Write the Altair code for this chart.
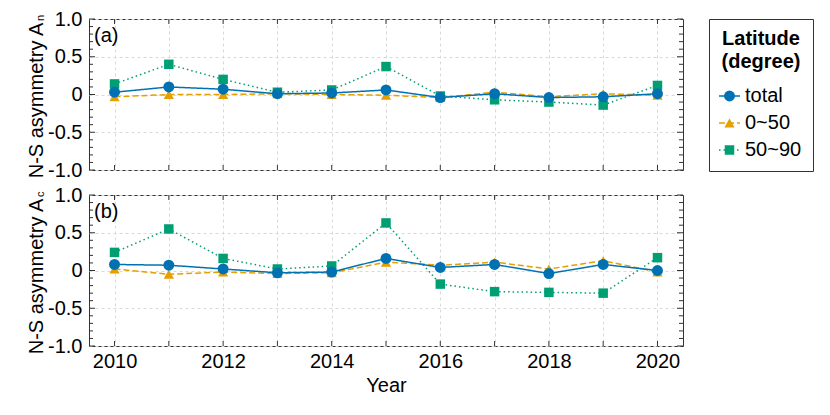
import altair as alt
import pandas as pd

# ---------------- data ----------------
years = [2010, 2011, 2012, 2013, 2014, 2015, 2016, 2017, 2018, 2019, 2020]
series_names = ["total", "0~50", "50~90"]

# panel (a): N-S asymmetry A_n
a_total = [0.03, 0.10, 0.07, 0.01, 0.02, 0.06, -0.04, 0.01, -0.04, -0.03, 0.01]
a_low = [-0.03, 0.00, 0.00, 0.01, 0.00, -0.01, -0.04, 0.03, -0.03, 0.01, -0.01]
a_high = [0.14, 0.40, 0.20, 0.03, 0.06, 0.37, -0.02, -0.07, -0.10, -0.14, 0.12]

# panel (b): N-S asymmetry A_c
b_total = [0.08, 0.07, 0.02, -0.03, -0.02, 0.16, 0.04, 0.08, -0.04, 0.08, 0.00]
b_low = [0.02, -0.05, -0.02, -0.04, -0.03, 0.11, 0.07, 0.11, 0.02, 0.13, -0.02]
b_high = [0.24, 0.55, 0.16, 0.02, 0.06, 0.63, -0.18, -0.28, -0.29, -0.30, 0.17]

y_major = [-1.0, -0.5, 0.0, 0.5, 1.0]
y_minor = [-0.9, -0.8, -0.7, -0.6, -0.4, -0.3, -0.2, -0.1,
           0.1, 0.2, 0.3, 0.4, 0.6, 0.7, 0.8, 0.9]
panel_tags = ["(a)", "(b)"]
y_title = "N-S asymmetry A"
y_subs = ["n", "c"]
x_title = "Year"
legend_title = ["Latitude", "(degree)"]

# ---------------- style ----------------
FONT = "Liberation Sans"
W, H = 594, 151
X_DOMAIN = [2009.53, 2020.47]
FRAME = "#333333"
GRID = "#d9d9d9"

series_colors = ["#0072B2", "#E69F00", "#009E73"]
series_shapes = ["circle", "triangle-up", "square"]
series_dashes = [[1, 0], [6, 3], [1.5, 3]]
series_sizes = [120, 90, 85]

color_scale = alt.Scale(domain=series_names, range=series_colors)
shape_scale = alt.Scale(domain=series_names, range=series_shapes)
dash_scale = alt.Scale(domain=series_names, range=series_dashes)
size_scale = alt.Scale(domain=series_names, range=series_sizes)

y_label_expr = ("datum.value == 0 ? '0' : (datum.value < 0 ? '-' : '') + "
                "format(abs(datum.value), '.1f')")
x_label_expr = "datum.value % 2 == 0 ? format(datum.value, 'd') : ''"


def panel(total, low, high, tag, sub, bottom):
    n = len(years)
    df = pd.DataFrame({
        "year": years * 3,
        "value": high + low + total,
        "series": [series_names[2]] * n + [series_names[1]] * n + [series_names[0]] * n,
    })

    x_kwargs = dict(values=years, tickCount=20, grid=True, gridColor=GRID,
                    gridDash=[3, 3], gridWidth=1, ticks=False, domain=False,
                    labelOverlap=False)
    if bottom:
        x_kwargs.update(labels=True, labelExpr=x_label_expr, labelFontSize=20,
                        labelPadding=5, labelColor="black", title=x_title,
                        titleFontSize=20, titleFontWeight="normal",
                        titlePadding=4, titleColor="black")
    else:
        x_kwargs.update(labels=False, title="")
    x_axis = alt.Axis(**x_kwargs)
    y_axis = alt.Axis(values=y_major, tickCount=10, labelExpr=y_label_expr,
                      grid=True, gridColor=GRID, gridDash=[3, 3], gridWidth=1,
                      ticks=False, domain=False, labelFontSize=20,
                      labelOverlap=False, labelPadding=7,
                      labelColor="black", title=y_title,
                      titleFontSize=20, titleFontWeight="normal",
                      titleColor="black", titleAngle=270, titleX=-47,
                      titleY=81, titleAlign="center",
                      titleBaseline="alphabetic")
    x_scale = alt.Scale(domain=X_DOMAIN, nice=False, zero=False)
    y_scale = alt.Scale(domain=[-1, 1], nice=False, zero=False)

    def X():
        return alt.X("year:Q", scale=x_scale, axis=x_axis)

    def Y():
        return alt.Y("value:Q", scale=y_scale, axis=y_axis)

    lines = alt.Chart(df).mark_line(strokeWidth=1.5).encode(
        x=X(), y=Y(),
        color=alt.Color("series:N", scale=color_scale, legend=None),
        strokeDash=alt.StrokeDash("series:N", scale=dash_scale, legend=None),
        detail="series:N",
    )
    points = alt.Chart(df).mark_point(filled=True, opacity=1).encode(
        x=X(), y=Y(),
        color=alt.Color("series:N", scale=color_scale, legend=None),
        shape=alt.Shape("series:N", scale=shape_scale, legend=None),
        size=alt.Size("series:N", scale=size_scale, legend=None),
    )

    ymin_df = pd.DataFrame({"value": y_minor})
    ymaj_df = pd.DataFrame({"value": y_major})
    yr_df = pd.DataFrame({"year": years})
    tick_l_min = alt.Chart(ymin_df).mark_rule(color=FRAME).encode(
        y=Y(), x=alt.value(0), x2=alt.value(4))
    tick_r_min = alt.Chart(ymin_df).mark_rule(color=FRAME).encode(
        y=Y(), x=alt.value(W - 4), x2=alt.value(W))
    tick_l_maj = alt.Chart(ymaj_df).mark_rule(color=FRAME).encode(
        y=Y(), x=alt.value(0), x2=alt.value(6))
    tick_r_maj = alt.Chart(ymaj_df).mark_rule(color=FRAME).encode(
        y=Y(), x=alt.value(W - 6), x2=alt.value(W))
    tick_t = alt.Chart(yr_df).mark_rule(color=FRAME).encode(
        x=X(), y=alt.value(0), y2=alt.value(5))
    tick_b = alt.Chart(yr_df).mark_rule(color=FRAME).encode(
        x=X(), y=alt.value(H - 5), y2=alt.value(H))

    tag_text = alt.Chart(pd.DataFrame({"tag": [tag]})).mark_text(
        align="left", baseline="middle", fontSize=20, color="black").encode(
        text="tag:N", x=alt.value(5), y=alt.value(17))
    sub_text = alt.Chart(pd.DataFrame({"sub": [sub]})).mark_text(
        align="left", baseline="alphabetic", angle=270, fontSize=11,
        color="black").encode(
        text="sub:N", x=alt.value(-45.5), y=alt.value(2))

    return alt.layer(lines, points, tick_l_min, tick_r_min, tick_l_maj,
                     tick_r_maj, tick_t, tick_b, tag_text, sub_text).properties(
        width=W, height=H)


top = panel(a_total, a_low, a_high, panel_tags[0], y_subs[0], False)
bot = panel(b_total, b_low, b_high, panel_tags[1], y_subs[1], True)

# ---------------- legend panel ----------------
leg_base = alt.Chart(pd.DataFrame({"series": series_names})).transform_window(
    row="row_number()")
leg_y = alt.Y("row:Q", scale=alt.Scale(domain=[1, 3], range=[77, 131],
                                       nice=False, zero=False), axis=None)
leg_line = leg_base.mark_rule(strokeWidth=1.5).encode(
    y=leg_y, x=alt.value(10), x2=alt.value(31),
    color=alt.Color("series:N", scale=color_scale, legend=None),
    strokeDash=alt.StrokeDash("series:N", scale=dash_scale, legend=None))
leg_pt = leg_base.mark_point(filled=True, opacity=1).encode(
    y=leg_y, x=alt.value(20.5),
    color=alt.Color("series:N", scale=color_scale, legend=None),
    shape=alt.Shape("series:N", scale=shape_scale, legend=None),
    size=alt.Size("series:N", scale=size_scale, legend=None))
leg_lbl = leg_base.mark_text(align="left", baseline="middle",
                             fontSize=20, color="black").encode(
    y=leg_y, x=alt.value(36), text="series:N")
leg_t1 = alt.Chart(pd.DataFrame({"t": [legend_title[0]]})).mark_text(
    align="center", baseline="middle", fontSize=20, fontWeight="bold",
    color="black").encode(text="t:N", x=alt.value(52), y=alt.value(20))
leg_t2 = alt.Chart(pd.DataFrame({"t": [legend_title[1]]})).mark_text(
    align="center", baseline="middle", fontSize=20, fontWeight="bold",
    color="black").encode(text="t:N", x=alt.value(52), y=alt.value(43))
legend = alt.layer(leg_line, leg_pt, leg_lbl, leg_t1, leg_t2).properties(
    width=104, height=152)

left = alt.vconcat(top, bot, spacing=25, bounds="flush")
chart = alt.hconcat(left, legend, spacing=24).properties(
    padding={"left": 17, "top": 0, "right": 5, "bottom": 5}
).configure(font=FONT).configure_view(stroke=FRAME, strokeWidth=1)

chart.save("out.html", embed_options={"renderer": "svg", "actions": False})
